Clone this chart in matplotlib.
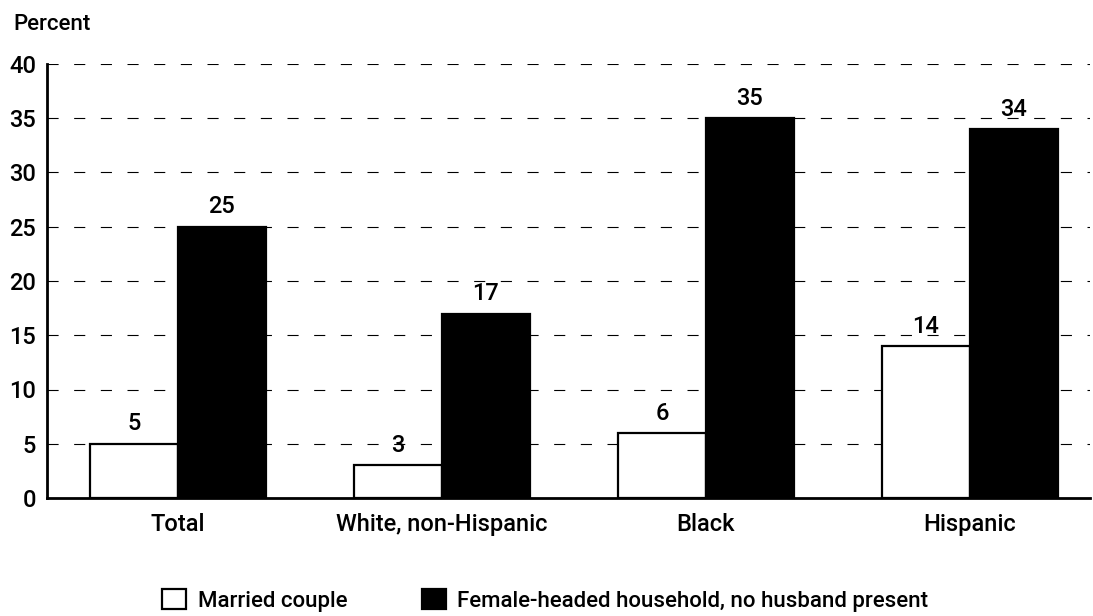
import matplotlib
matplotlib.use("Agg")
import matplotlib.pyplot as plt
from matplotlib.patches import Patch
import numpy as np

categories = ["Total", "White, non-Hispanic", "Black", "Hispanic"]
married = [5, 3, 6, 14]
female = [25, 17, 35, 34]
series_names = ["Married couple", "Female-headed household, no husband present"]
yticks = [0, 5, 10, 15, 20, 25, 30, 35, 40]

plt.rcParams['font.family'] = ['Roboto', 'DejaVu Sans']
plt.rcParams['font.weight'] = 'medium'

W, H = 1093, 616
fig = plt.figure(figsize=(W / 100, H / 100), dpi=100)
ax_left, ax_right = 47, 1090
ax_top, ax_bottom = 64, 498
ax = fig.add_axes([ax_left / W, 1 - ax_bottom / H,
                   (ax_right - ax_left) / W, (ax_bottom - ax_top) / H])

x = np.arange(len(categories))
w = 0.333
ax.bar(x - w/2, married, width=w, color='white', edgecolor='black', linewidth=1.6, zorder=3)
ax.bar(x + w/2, female, width=w, color='black', edgecolor='black', linewidth=1.6, zorder=3)

for xi, v in zip(x - w/2, married):
    ax.annotate(str(v), (xi, v), xytext=(0, 6), textcoords='offset points',
                ha='center', va='bottom', fontsize=17, zorder=4)
for xi, v in zip(x + w/2, female):
    ax.annotate(str(v), (xi, v), xytext=(0, 6), textcoords='offset points',
                ha='center', va='bottom', fontsize=17, zorder=4)

ax.set_xlim(-0.496, 3.455)
ax.set_ylim(0, 40)
ax.set_yticks(yticks)
ax.set_yticklabels([str(t) for t in yticks], fontsize=17)
ax.set_xticks(x)
ax.set_xticklabels(categories, fontsize=17)
ax.tick_params(axis='y', length=0, pad=8)
ax.tick_params(axis='x', length=0, pad=11)
ax.yaxis.grid(True, color='black', linestyle=(0, (10, 14)), linewidth=0.8, zorder=0)
for s in ['top', 'right']:
    ax.spines[s].set_visible(False)
ax.spines['left'].set_linewidth(2)
ax.spines['bottom'].set_linewidth(2)

fig.text(13 / W, 1 - 30 / H, "Percent", fontsize=16, ha='left', va='baseline')

handles = [Patch(facecolor='white', edgecolor='black', linewidth=1.6),
           Patch(facecolor='black', edgecolor='black', linewidth=1.6)]
fig.legend(handles, series_names, loc='lower left', bbox_to_anchor=(158 / W, 1 - 616 / H),
           ncol=2, frameon=False, fontsize=16, handlelength=1.08, handleheight=1.0,
           columnspacing=3.35, handletextpad=0.5, borderpad=0, borderaxespad=0.2)

fig.savefig("out.png", dpi=100)
